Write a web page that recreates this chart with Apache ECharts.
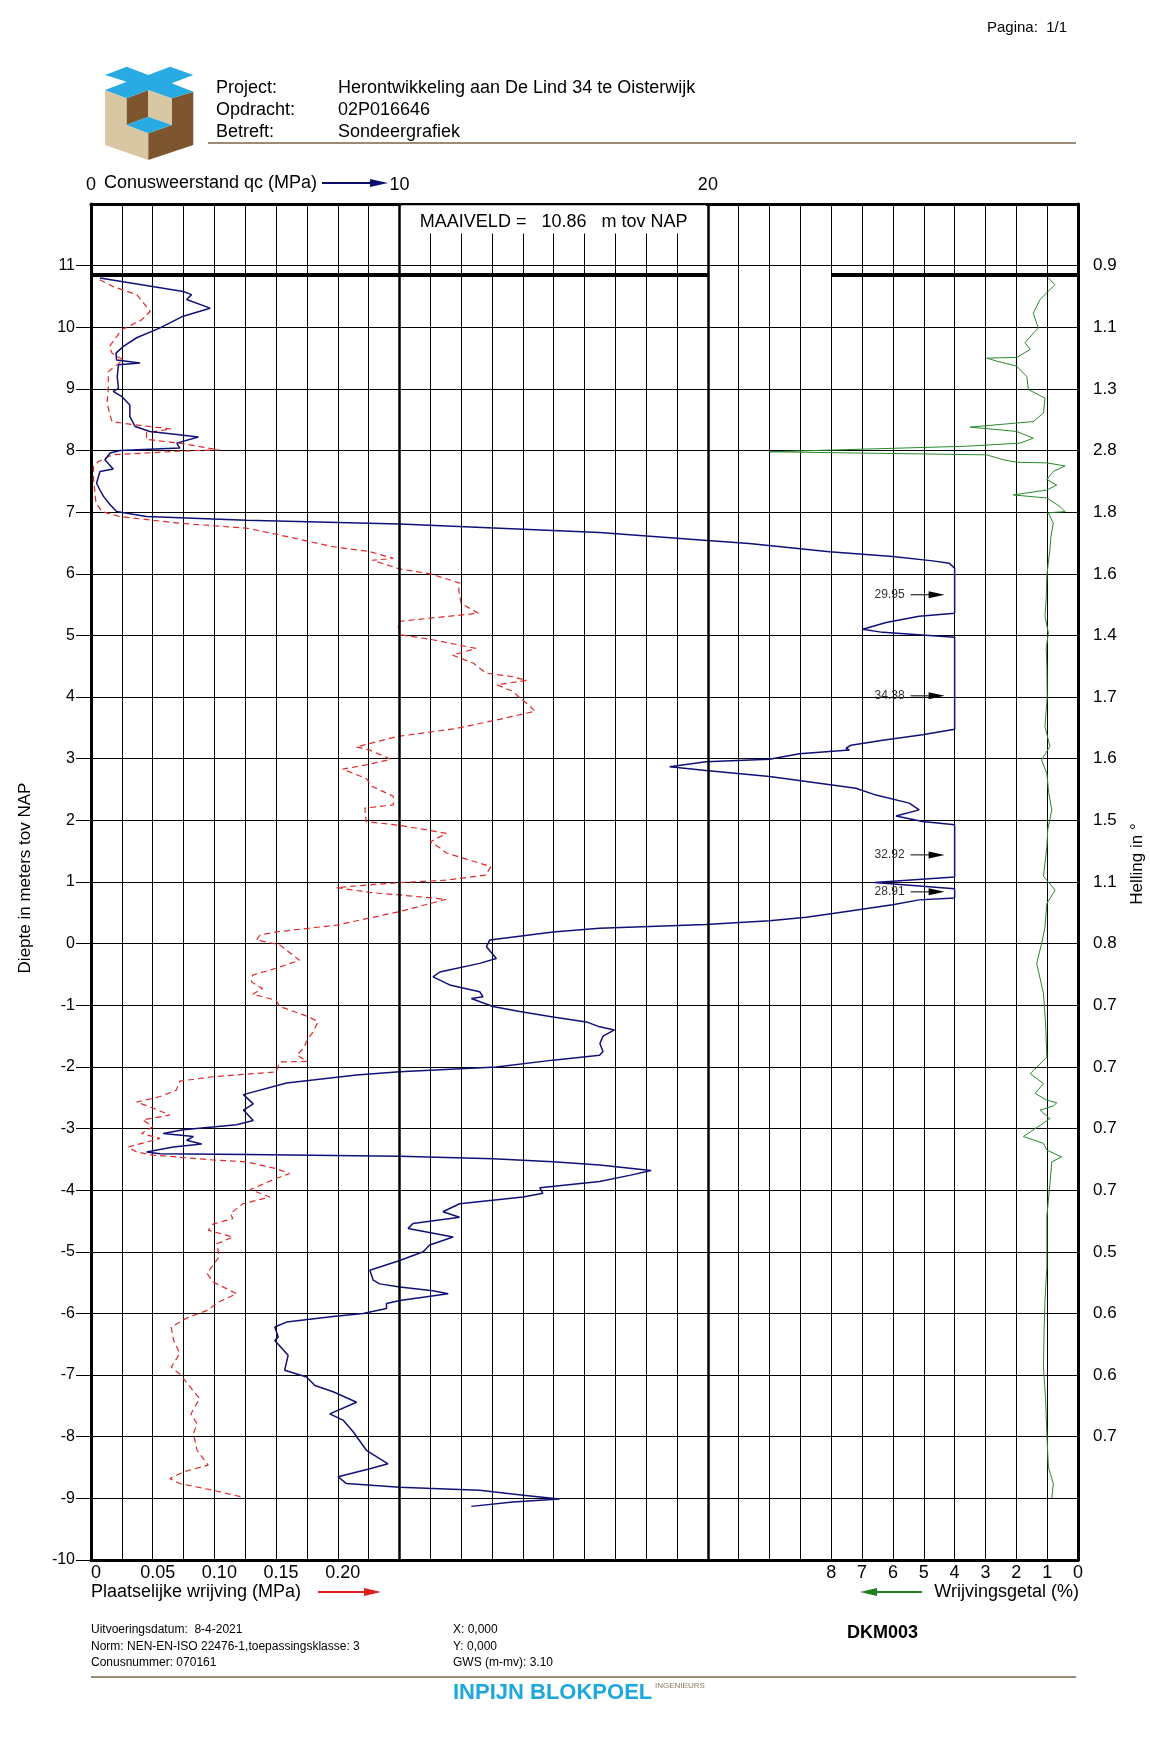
<!DOCTYPE html>
<html><head><meta charset="utf-8">
<script src="https://cdn.jsdelivr.net/npm/echarts@6/dist/echarts.min.js"></script>
<style>html,body{margin:0;padding:0;background:#fff}#c{width:1150px;height:1738px}</style>
</head><body><div id="c"></div>
<script>
const FONT = '"Liberation Sans", Arial, sans-serif';
const maaiveld = 10.86;
const qcClip = 28;

// [NAP (m), qc (MPa)] — values above qcClip are drawn at the clip
const qcProfile = [
[10.80,0.29],[10.58,2.99],[10.53,3.26],[10.45,3.10],[10.31,3.86],[10.18,2.99],[9.99,2.24],[9.83,1.48],[9.69,1.05],[9.58,0.81],
[9.47,0.83],[9.42,1.59],[9.39,0.89],[9.20,0.85],[9.01,0.89],[8.96,0.72],[8.88,0.99],[8.74,1.26],[8.55,1.26],[8.39,1.43],
[8.31,1.91],[8.26,2.78],[8.22,3.48],[8.12,2.78],[8.04,2.88],[8.00,0.94],[7.96,0.62],[7.85,0.45],[7.70,0.72],[7.66,0.29],
[7.47,0.18],[7.36,0.29],[7.26,0.40],[7.12,0.62],[7.01,0.83],[6.93,1.80],[6.87,5.04],[6.81,10.01],[6.67,16.49],[6.54,19.98],
[6.49,21.34],[6.36,23.94],[6.28,25.99],[6.21,27.29],[6.17,27.83],[6.09,28.0],[5.36,28.0],[5.31,26.85],[5.21,25.78],[5.10,25.02],
[5.05,25.67],[4.97,28.0],[3.48,28.0],[3.39,26.96],[3.30,25.67],[3.22,24.64],[3.17,24.48],[3.14,24.59],[3.08,22.97],[2.99,22.0],
[2.95,19.94],[2.87,18.76],[2.81,19.94],[2.71,22.0],[2.52,24.80],[2.41,25.45],[2.28,26.53],[2.17,26.85],[2.07,26.10],[1.98,26.96],
[1.93,28.0],[1.08,28.0],[0.99,25.4],[0.89,28.0],[0.74,28.0],[0.71,26.85],[0.63,25.99],[0.49,24.05],[0.43,23.19],[0.37,22.0],
[0.31,19.94],[0.25,16.49],[0.19,14.98],[0.06,12.93],[-0.05,12.82],[-0.24,13.14],[-0.32,12.60],[-0.46,11.31],[-0.54,11.09],[-0.67,11.63],
[-0.78,12.60],[-0.86,12.71],[-0.89,12.33],[-1.02,13.03],[-1.10,13.90],[-1.19,14.98],[-1.27,16.06],[-1.35,16.49],[-1.40,16.97],[-1.50,16.6],
[-1.62,16.5],[-1.75,16.6],[-1.81,16.49],[-1.89,14.98],[-2.00,13.14],[-2.08,10.01],[-2.13,8.61],[-2.26,6.34],[-2.45,4.94],[-2.60,5.26],
[-2.70,4.94],[-2.87,5.26],[-2.94,4.72],[-3.02,2.99],[-3.08,2.34],[-3.13,3.32],[-3.19,3.10],[-3.25,3.59],[-3.30,2.67],[-3.38,1.80],
[-3.41,2.24],[-3.42,5.04],[-3.45,10.01],[-3.49,13.03],[-3.54,14.98],[-3.59,16.49],[-3.68,18.16],[-3.76,17.46],[-3.86,16.49],[-3.96,14.55],
[-4.05,14.65],[-4.11,14.01],[-4.22,11.95],[-4.35,11.41],[-4.44,11.95],[-4.54,10.44],[-4.62,10.28],[-4.76,11.74],[-4.89,10.98],[-5.00,10.77],
[-5.14,10.01],[-5.30,9.04],[-5.46,9.15],[-5.52,9.36],[-5.57,10.01],[-5.63,11.09],[-5.68,11.58],[-5.79,10.01],[-5.84,9.58],[-5.92,9.58],
[-6.00,8.82],[-6.05,7.85],[-6.14,6.34],[-6.22,5.96],[-6.38,6.07],[-6.44,5.96],[-6.68,6.39],[-6.92,6.28],[-7.03,6.99],[-7.17,7.26],
[-7.27,7.85],[-7.44,8.61],[-7.63,7.74],[-7.73,8.17],[-7.92,8.50],[-8.22,8.93],[-8.44,9.63],[-8.52,9.04],[-8.65,8.01],[-8.76,8.28],
[-8.82,10.01],[-8.87,12.60],[-8.95,14.01],[-9.01,15.19],[-9.06,13.68],[-9.13,12.33]
];

// [NAP (m), local friction fs (MPa)]
const fsProfile = [
[10.77,0.007],[10.66,0.018],[10.53,0.037],[10.26,0.048],[10.12,0.041],[9.96,0.025],[9.80,0.019],[9.69,0.015],[9.58,0.017],[9.47,0.026],
[9.39,0.021],[9.28,0.014],[8.99,0.014],[8.77,0.013],[8.61,0.015],[8.47,0.017],[8.42,0.034],[8.35,0.065],[8.29,0.045],[8.18,0.045],
[8.12,0.072],[8.01,0.104],[7.99,0.072],[7.93,0.017],[7.82,0.006],[7.74,0.002],[7.53,0.002],[7.36,0.003],[7.15,0.004],[7.01,0.009],
[6.93,0.023],[6.82,0.072],[6.74,0.126],[6.63,0.153],[6.44,0.196],[6.36,0.226],[6.25,0.245],[6.22,0.228],[6.08,0.250],[6.00,0.275],
[5.85,0.299],[5.74,0.298],[5.52,0.300],[5.36,0.314],[5.23,0.250],[5.15,0.249],[5.01,0.251],[4.93,0.277],[4.79,0.312],[4.68,0.293],
[4.55,0.310],[4.39,0.320],[4.33,0.342],[4.27,0.353],[4.20,0.329],[4.09,0.342],[3.98,0.348],[3.90,0.353],[3.77,0.360],[3.63,0.329],
[3.49,0.296],[3.36,0.248],[3.19,0.215],[3.14,0.226],[2.99,0.243],[2.90,0.223],[2.83,0.204],[2.68,0.223],[2.55,0.228],[2.39,0.245],
[2.25,0.245],[2.20,0.222],[1.98,0.223],[1.92,0.250],[1.79,0.288],[1.65,0.275],[1.55,0.283],[1.47,0.288],[1.25,0.324],[1.11,0.320],
[1.03,0.288],[0.99,0.250],[0.91,0.199],[0.83,0.226],[0.79,0.250],[0.72,0.288],[0.52,0.250],[0.30,0.199],[0.19,0.150],[0.14,0.137],
[0.06,0.134],[-0.02,0.153],[-0.27,0.169],[-0.40,0.150],[-0.51,0.131],[-0.62,0.130],[-0.73,0.139],[-0.82,0.131],[-0.92,0.150],[-1.02,0.153],
[-1.19,0.177],[-1.27,0.184],[-1.43,0.180],[-1.54,0.176],[-1.70,0.172],[-1.81,0.167],[-1.91,0.175],[-1.92,0.153],[-2.08,0.150],[-2.16,0.099],
[-2.23,0.072],[-2.38,0.069],[-2.48,0.056],[-2.57,0.037],[-2.65,0.048],[-2.78,0.064],[-2.86,0.042],[-2.97,0.050],[-3.08,0.041],[-3.16,0.056],
[-3.30,0.030],[-3.38,0.037],[-3.43,0.050],[-3.51,0.099],[-3.54,0.126],[-3.65,0.150],[-3.73,0.161],[-3.81,0.150],[-3.99,0.129],[-4.11,0.145],
[-4.22,0.123],[-4.38,0.113],[-4.46,0.115],[-4.55,0.099],[-4.65,0.095],[-4.76,0.115],[-4.87,0.102],[-5.08,0.104],[-5.35,0.094],[-5.49,0.099],
[-5.68,0.118],[-5.81,0.104],[-5.95,0.094],[-6.08,0.077],[-6.22,0.065],[-6.44,0.067],[-6.65,0.072],[-6.87,0.065],[-7.00,0.073],[-7.11,0.077],
[-7.38,0.088],[-7.63,0.081],[-7.79,0.086],[-7.95,0.083],[-8.22,0.086],[-8.46,0.095],[-8.57,0.075],[-8.68,0.064],[-8.76,0.072],[-8.87,0.099],
[-8.98,0.123]
];

// [NAP (m), friction ratio Rf (%)]
const rfProfile = [
[10.80,0.96],[10.69,0.75],[10.56,1.01],[10.45,1.23],[10.23,1.45],[9.99,1.29],[9.75,1.72],[9.64,1.55],[9.51,1.99],[9.50,2.96],
[9.45,2.63],[9.37,1.99],[9.20,1.66],[8.99,1.61],[8.85,1.07],[8.61,1.12],[8.47,1.45],[8.38,3.50],[8.31,1.99],[8.20,1.45],
[8.12,1.88],[8.07,3.61],[7.98,9.98],[7.93,2.96],[7.85,2.42],[7.81,1.99],[7.80,1.01],[7.75,0.42],[7.66,0.80],[7.53,1.01],
[7.44,0.69],[7.36,1.01],[7.28,2.10],[7.23,1.01],[7.09,0.58],[7.01,0.42],[6.99,0.96],[6.82,0.80],[6.60,0.88],[6.39,0.91],
[6.15,0.97],[5.96,1.01],[5.60,1.03],[5.31,1.07],[5.04,0.96],[4.80,1.03],[4.50,1.01],[4.00,1.00],[3.52,1.07],[3.20,0.91],
[2.98,1.18],[2.76,1.01],[2.45,0.95],[2.17,0.85],[1.85,0.98],[1.57,1.01],[1.09,1.12],[0.87,0.74],[0.65,1.01],[0.27,1.07],
[0.00,1.18],[-0.32,1.34],[-0.81,1.12],[-1.30,1.05],[-1.84,1.01],[-2.11,1.55],[-2.27,1.12],[-2.43,1.39],[-2.54,1.01],[-2.58,0.69],
[-2.63,0.78],[-2.70,1.23],[-2.84,0.91],[-3.13,1.77],[-3.24,1.12],[-3.35,1.01],[-3.46,0.53],[-3.54,0.85],[-3.89,0.91],[-4.43,1.01],
[-5.24,1.01],[-5.79,1.07],[-6.30,1.10],[-6.87,1.12],[-7.40,1.05],[-7.95,1.01],[-8.49,0.96],[-8.76,0.80],[-9.00,0.85]
];

// [true qc (MPa), NAP (m)] for the clipped peaks
const qcOverflow = [[29.95,5.66],[34.38,4.02],[32.92,1.44],[28.91,0.84]];

const depthTicks = [11,10,9,8,7,6,5,4,3,2,1,0,-1,-2,-3,-4,-5,-6,-7,-8,-9,-10];
const hellingDepths = [11,10,9,8,7,6,5,4,3,2,1,0,-1,-2,-3,-4,-5,-6,-7,-8];
const hellingValues = [0.9,1.1,1.3,2.8,1.8,1.6,1.4,1.7,1.6,1.5,1.1,0.8,0.7,0.7,0.7,0.7,0.5,0.6,0.6,0.7];
const qcTopLabels = [0,10,20];
const fsTickLabels = [0,0.05,0.10,0.15,0.20];
const rfTickLabels = [0,1,2,3,4,5,6,7,8];

const hellingMap = {};
hellingDepths.forEach((d,i)=>{hellingMap[d]=hellingValues[i];});

const chart = echarts.init(document.getElementById('c'), null, {renderer:'canvas'});

function txt(x,y,text,size,opts){
  opts = opts||{};
  return {type:'text', silent:true, style:Object.assign({x:x,y:y,text:text,fontSize:size,fontFamily:FONT,fill:'#000',align:'left',verticalAlign:'middle'},opts)};
}
function poly(points,color){return {type:'polygon',silent:true,shape:{points:points},style:{fill:color}};}
function hline(x1,x2,y,color,w){return {type:'line',silent:true,shape:{x1:x1,y1:y,x2:x2,y2:y},style:{stroke:color,lineWidth:w}};}

const TAN='#d9c7a3', BROWN='#7d5630', BLUE='#27abe2';
const graphics = [
  txt(987,28,'Pagina:  1/1',15),
  // logo
  poly([[105,90],[126.7,98.3],[126.7,125],[148.3,133.3],[148.3,160],[105,145]],TAN),
  poly([[148.3,160],[193.3,145],[193.3,91.7],[171.7,98.3],[171.7,125],[148.3,133.3]],BROWN),
  poly([[126.7,98.3],[148.3,90],[148.3,116.7],[126.7,125]],BROWN),
  poly([[148.3,90],[171.7,98.3],[171.7,125],[148.3,116.7]],TAN),
  poly([[126.7,125],[148.3,116.7],[171.7,125],[148.3,133.3]],BLUE),
  poly([[105,75],[126.7,66.7],[148.3,75],[170,66.7],[193.3,75],[171.7,83.3],[193.3,91.7],[171.7,98.3],[148.3,90],[126.7,98.3],[105,90],[126.7,81.7]],BLUE),
  txt(216,88,'Project:',18), txt(216,110,'Opdracht:',18), txt(216,132,'Betreft:',18),
  txt(338,88,'Herontwikkeling aan De Lind 34 te Oisterwijk',18),
  txt(338,110,'02P016646',18),
  txt(338,132,'Sondeergrafiek',18),
  hline(208,1076,143,'#7a6548',1.5),
  txt(104,183,'Conusweerstand qc (MPa)',18),
  hline(322,374,183,'#0d0d70',2),
  poly([[370,179],[388,183],[370,187]],'#0d0d70'),
  {type:'text',silent:true,rotation:Math.PI/2,x:25,y:878,style:{x:0,y:0,text:'Diepte in meters tov NAP',fontSize:17,fontFamily:FONT,fill:'#000',align:'center',verticalAlign:'middle'}},
  {type:'text',silent:true,rotation:Math.PI/2,x:1137,y:864,style:{x:0,y:0,text:'Helling in \u00B0',fontSize:17,fontFamily:FONT,fill:'#000',align:'center',verticalAlign:'middle'}},
  txt(91,1592,'Plaatselijke wrijving (MPa)',18),
  hline(318,368,1592,'#e02020',2),
  poly([[364,1588],[381,1592],[364,1596]],'#e02020'),
  txt(1079,1592,'Wrijvingsgetal (%)',18,{align:'right'}),
  hline(872,922,1592,'#1f7f1f',2),
  poly([[877,1588],[860,1592],[877,1596]],'#1f7f1f'),
  txt(91,1630,'Uitvoeringsdatum:  8-4-2021',12),
  txt(91,1647,'Norm: NEN-EN-ISO 22476-1,toepassingsklasse: 3',12),
  txt(91,1663,'Conusnummer: 070161',12),
  txt(453,1630,'X: 0,000',12),
  txt(453,1647,'Y: 0,000',12),
  txt(453,1663,'GWS (m-mv): 3.10',12),
  txt(847,1633,'DKM003',18,{fontWeight:'bold'}),
  hline(91,1076,1677,'#7a6548',1.5),
  txt(453,1693,'INPIJN BLOKPOEL',22,{fontWeight:'bold',fill:'#1ea7dc'}),
  txt(655,1686,'INGENIEURS',8,{fill:'#8a7a60'})
];

const axisText = {color:'#000', fontFamily:FONT};

const option = {
  animation:false,
  backgroundColor:'#fff',
  grid:{left:91,right:72,top:204,bottom:178,containLabel:false,outerBoundsMode:'none'},
  xAxis:[
    {type:'value',position:'top',min:0,max:32,interval:1,
     axisLine:{show:true,onZero:false,lineStyle:{color:'#000',width:3}},
     axisTick:{show:false},
     splitLine:{show:true,lineStyle:{color:'#000',width:1}},
     axisLabel:Object.assign({customValues:qcTopLabels,fontSize:18,margin:10},axisText)},
    {type:'value',position:'bottom',min:0,max:0.8,
     axisLine:{show:true,onZero:false,lineStyle:{color:'#000',width:3}},
     axisTick:{show:false},splitLine:{show:false},
     axisLabel:Object.assign({customValues:fsTickLabels,fontSize:18,margin:4,padding:[0,0,0,10],
       formatter:v=>v===0?'0':v.toFixed(2)},axisText)},
    {type:'value',position:'bottom',inverse:true,min:0,max:32,
     axisLine:{show:false},axisTick:{show:false},splitLine:{show:false},
     axisLabel:Object.assign({customValues:rfTickLabels,fontSize:18,margin:4},axisText)}
  ],
  yAxis:[
    {type:'value',position:'left',min:-10,max:12,interval:0.5,
     axisLine:{show:true,onZero:false,lineStyle:{color:'#000',width:3}},
     axisTick:{show:true,customValues:depthTicks,length:15,inside:false,lineStyle:{color:'#000',width:1}},
     splitLine:{show:true,lineStyle:{color:'#000',width:1}},
     axisLabel:Object.assign({customValues:depthTicks,fontSize:16,margin:16,padding:[0,0,11,0]},axisText)},
    {type:'value',position:'right',min:-10,max:12,interval:0.5,
     axisLine:{show:true,onZero:false,lineStyle:{color:'#000',width:3}},
     axisTick:{show:false},splitLine:{show:false},
     axisLabel:Object.assign({customValues:hellingDepths,fontSize:17,margin:15,padding:[0,0,12,0],
       formatter:v=>hellingMap[v]!==undefined?hellingMap[v].toFixed(1):''},axisText)}
  ],
  series:[
    {type:'line',name:'fs',xAxisIndex:1,yAxisIndex:0,symbol:'none',z:3,
     data:fsProfile.map(p=>[p[1],p[0]]),
     lineStyle:{color:'#e02a2a',width:1.2,type:[6,4]}},
    {type:'line',name:'rf',xAxisIndex:2,yAxisIndex:0,symbol:'none',z:3,
     data:rfProfile.map(p=>[p[1],p[0]]),
     lineStyle:{color:'#2a8a2a',width:1}},
    {type:'line',name:'qc',xAxisIndex:0,yAxisIndex:0,symbol:'none',z:4,
     data:qcProfile.map(p=>[p[1],p[0]]),
     lineStyle:{color:'#101078',width:1.5},
     markArea:{silent:true,
       itemStyle:{color:'#fff'},
       label:{show:true,position:'inside',fontSize:18,color:'#000',fontFamily:FONT,offset:[0,3],
         formatter:'MAAIVELD =   '+maaiveld.toFixed(2)+'   m tov NAP'},
       data:[[{coord:[10.06,11.52]},{coord:[19.94,11.98]}]]},
     markLine:{silent:true,symbol:'none',label:{show:false},
       lineStyle:{color:'#000',width:2.5,type:'solid'},
       data:[{xAxis:10},{xAxis:20},
         [{coord:[0,maaiveld],lineStyle:{width:4,color:'#000',type:'solid'}},{coord:[20,maaiveld]}],
         [{coord:[24,maaiveld],lineStyle:{width:4,color:'#000',type:'solid'}},{coord:[32,maaiveld]}]]}},
    {type:'custom',name:'overflow',xAxisIndex:0,yAxisIndex:0,z:5,
     data:qcOverflow,
     renderItem:function(params,api){
       const p = api.coord([qcClip, api.value(1)]);
       return {type:'group',children:[
         {type:'text',style:{text:api.value(0).toFixed(2),x:p[0]-50,y:p[1],align:'right',verticalAlign:'middle',fontSize:12,fontFamily:FONT,fill:'#333'}},
         {type:'line',shape:{x1:p[0]-44,y1:p[1],x2:p[0]-24,y2:p[1]},style:{stroke:'#000',lineWidth:1}},
         {type:'polygon',shape:{points:[[p[0]-26,p[1]-3.5],[p[0]-10,p[1]],[p[0]-26,p[1]+3.5]]},style:{fill:'#000'}}
       ]};
     }}
  ],
  graphic:graphics
};
chart.setOption(option);
</script></body></html>
